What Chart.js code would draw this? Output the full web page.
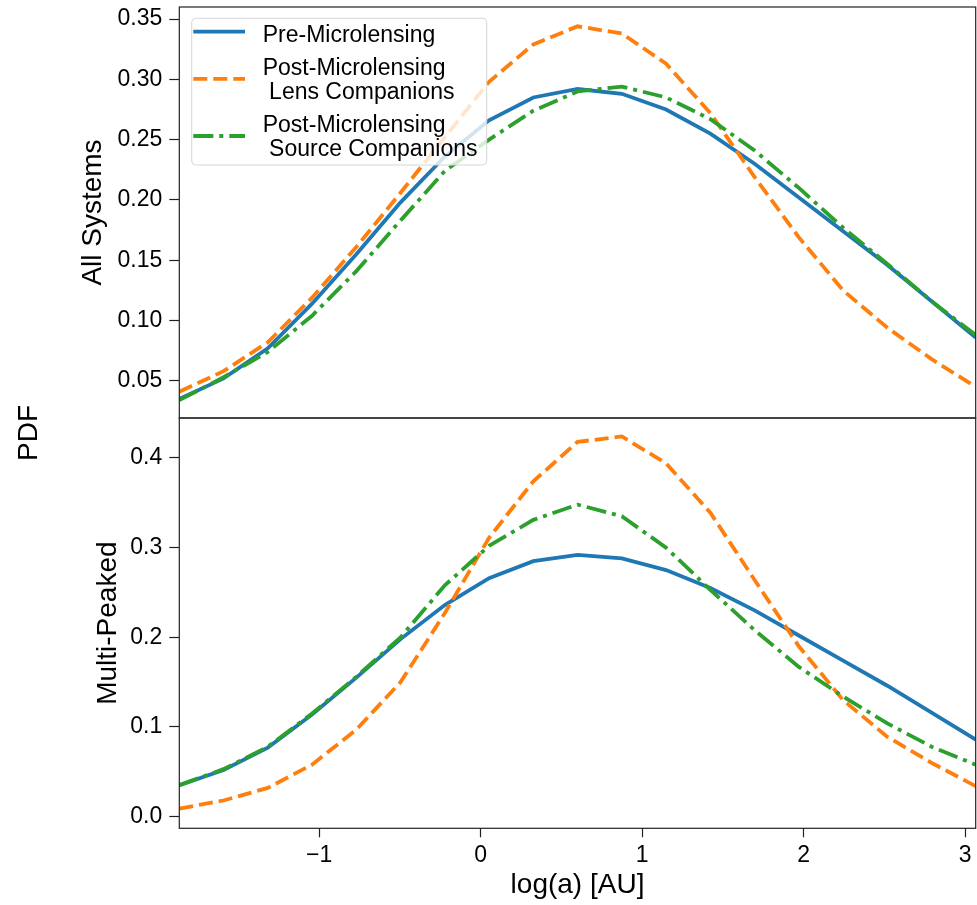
<!DOCTYPE html>
<html>
<head>
<meta charset="utf-8">
<script src="https://cdn.jsdelivr.net/npm/chart.js@4.4.1/dist/chart.umd.min.js"></script>
<style>
  body { margin: 0; background: #fff; }
  #page { position: relative; width: 977px; height: 905px; overflow: hidden; }
  canvas { position: absolute; left: 0; }
  #top-chart { top: 0; }
  #bottom-chart { top: 416px; }
  #pdf-label {
    position: absolute; left: 28px; top: 433px;
    transform: translate(-50%, -50%) rotate(-90deg);
    font: 28px 'Liberation Sans', Arial, sans-serif; color: #000;
    white-space: nowrap; line-height: 1;
  }
</style>
</head>
<body>
<div id="page">
  <canvas id="top-chart" width="977" height="420"></canvas>
  <canvas id="bottom-chart" width="977" height="489"></canvas>
  <div id="pdf-label">PDF</div>
</div>
<script>
const FONT = "'Liberation Sans', Arial, sans-serif";

// log(a) [AU] sample points
const logA = [-1.866, -1.592, -1.318, -1.044, -0.770, -0.496, -0.222, 0.052, 0.326, 0.600,
              0.874, 1.148, 1.422, 1.696, 1.970, 2.244, 2.518, 2.792, 3.065];

// Pre-Microlensing (same in both panels)
const preMicrolensing = [0.035, 0.052, 0.077, 0.114, 0.155, 0.198, 0.236, 0.266, 0.285, 0.292,
                         0.288, 0.275, 0.255, 0.230, 0.202, 0.174, 0.146, 0.116, 0.086];

// All Systems panel
const lensAll = [0.041, 0.058, 0.082, 0.119, 0.161, 0.206, 0.252, 0.298, 0.329, 0.344,
                 0.338, 0.313, 0.272, 0.219, 0.169, 0.125, 0.094, 0.068, 0.045];
const sourceAll = [0.034, 0.053, 0.074, 0.104, 0.141, 0.183, 0.224, 0.250, 0.274, 0.290,
                   0.294, 0.285, 0.267, 0.241, 0.210, 0.177, 0.147, 0.116, 0.088];

// Multi-Peaked panel
const lensMulti = [0.009, 0.018, 0.032, 0.058, 0.097, 0.150, 0.227, 0.311, 0.374, 0.418,
                   0.424, 0.394, 0.339, 0.264, 0.190, 0.130, 0.089, 0.060, 0.034];
const sourceMulti = [0.035, 0.053, 0.078, 0.115, 0.156, 0.200, 0.258, 0.302, 0.331, 0.348,
                     0.335, 0.300, 0.253, 0.208, 0.167, 0.134, 0.104, 0.078, 0.058];

const seriesLabels = ['Pre-Microlensing', 'Post-Microlensing\n Lens Companions', 'Post-Microlensing\n Source Companions'];
const xTicks = [-1, 0, 1, 2, 3];
const topYTicks = [0.05, 0.10, 0.15, 0.20, 0.25, 0.30, 0.35];
const bottomYTicks = [0.0, 0.1, 0.2, 0.3, 0.4];

function toPoints(values) {
    return logA.map((x, i) => ({x: x, y: values[i]}));
}

function makeDatasets(pre, lens, source) {
    const common = {pointRadius: 0, tension: 0, fill: false, borderWidth: 3.8};
    return [
        {...common, label: seriesLabels[0], data: toPoints(pre), borderColor: '#1f77b4', borderDash: [], order: 3},
        {...common, label: seriesLabels[1], data: toPoints(lens), borderColor: '#ff7f0e', borderDash: [14, 6], order: 2},
        {...common, label: seriesLabels[2], data: toPoints(source), borderColor: '#2ca02c', borderDash: [20, 6, 4, 6], order: 1}
    ];
}

// no extra room for half tick labels at the ends
function noEdgePadding(s) {
    s.paddingTop = 0;
    s.paddingBottom = 0;
    s.paddingLeft = 0;
    s.paddingRight = 0;
}

// box around each panel
const frame = {
    id: 'frame',
    afterDraw(chart) {
        const {ctx, chartArea: a} = chart;
        ctx.save();
        ctx.strokeStyle = '#222';
        ctx.lineWidth = 1.2;
        ctx.strokeRect(a.left, a.top, a.right - a.left, a.bottom - a.top);
        ctx.restore();
    }
};

// matplotlib-like legend with two-line labels
const seriesLegend = {
    id: 'seriesLegend',
    afterDatasetsDraw(chart) {
        const {ctx, chartArea: a} = chart;
        const box = {x: a.left + 12.4, y: a.top + 11.3, w: 295, h: 146.7};
        ctx.save();
        ctx.beginPath();
        ctx.roundRect(box.x, box.y, box.w, box.h, 4);
        ctx.fillStyle = 'rgba(255,255,255,0.8)';
        ctx.fill();
        ctx.strokeStyle = '#d6d6d6';
        ctx.lineWidth = 1;
        ctx.stroke();

        ctx.font = '23px ' + FONT;
        ctx.fillStyle = '#000';
        ctx.textBaseline = 'alphabetic';
        let baseline = box.y + 23.4;
        chart.data.datasets.forEach(ds => {
            const lines = ds.label.split('\n');
            const last = baseline + (lines.length - 1) * 24.2;
            const sampleY = lines.length > 1 ? (baseline + last) / 2 - 8 : baseline - 10;
            ctx.strokeStyle = ds.borderColor;
            ctx.lineWidth = ds.borderWidth;
            ctx.setLineDash(ds.borderDash);
            ctx.beginPath();
            ctx.moveTo(box.x + 1.6, sampleY);
            ctx.lineTo(box.x + 53.3, sampleY);
            ctx.stroke();
            ctx.setLineDash([]);
            lines.forEach((t, i) => ctx.fillText(t, box.x + 71, baseline + i * 24.2));
            baseline = last + 33;
        });
        ctx.restore();
    }
};

function yScale(min, max, tickValues, digits, title, titleOffset) {
    return {
        type: 'linear',
        min: min,
        max: max,
        afterBuildTicks: s => { s.ticks = tickValues.map(v => ({value: v})); },
        afterFit: s => { s.width = 179.3; noEdgePadding(s); },
        grid: {drawOnChartArea: false, drawTicks: true, tickLength: 10, tickWidth: 1.2, tickColor: '#222'},
        border: {display: false},
        ticks: {
            color: '#000', padding: 7, autoSkip: false,
            font: {family: FONT, size: 23},
            callback: v => v.toFixed(digits)
        },
        title: {
            display: true, text: title, color: '#000',
            font: {family: FONT, size: 28},
            padding: {top: titleOffset, bottom: 0}
        }
    };
}

const xMin = logA[0];
const xMax = logA[logA.length - 1];

new Chart('top-chart', {
    type: 'line',
    data: {datasets: makeDatasets(preMicrolensing, lensAll, sourceAll)},
    options: {
        responsive: false,
        animation: false,
        events: [],
        layout: {autoPadding: false, padding: {top: 7, bottom: 2, left: 0, right: 1.3}},
        plugins: {legend: {display: false}, tooltip: {enabled: false}},
        scales: {
            x: {type: 'linear', display: false, min: xMin, max: xMax},
            y: yScale(0.0192, 0.36, topYTicks, 2, 'All Systems', 76.6)
        }
    },
    plugins: [seriesLegend, frame]
});

new Chart('bottom-chart', {
    type: 'line',
    data: {datasets: makeDatasets(preMicrolensing, lensMulti, sourceMulti)},
    options: {
        responsive: false,
        animation: false,
        events: [],
        layout: {autoPadding: false, padding: {top: 2, bottom: 0, left: 0, right: 1.3}},
        plugins: {legend: {display: false}, tooltip: {enabled: false}},
        scales: {
            x: {
                type: 'linear',
                min: xMin,
                max: xMax,
                afterBuildTicks: s => { s.ticks = xTicks.map(v => ({value: v})); },
                afterFit: s => { s.height = 76.7; noEdgePadding(s); },
                grid: {drawOnChartArea: false, drawTicks: true, tickLength: 9, tickWidth: 1.2, tickColor: '#222'},
                border: {display: false},
                ticks: {
                    color: '#000', padding: 5, maxRotation: 0, autoSkip: false,
                    font: {family: FONT, size: 23},
                    callback: v => v < 0 ? '\u2212' + Math.abs(v) : String(v)
                },
                title: {
                    display: true, text: 'log(a) [AU]', color: '#000',
                    font: {family: FONT, size: 28},
                    padding: {top: 0, bottom: 2.6}
                }
            },
            y: yScale(-0.013, 0.4446, bottomYTicks, 1, 'Multi-Peaked', 91.7)
        }
    },
    plugins: [frame]
});
</script>
</body>
</html>
